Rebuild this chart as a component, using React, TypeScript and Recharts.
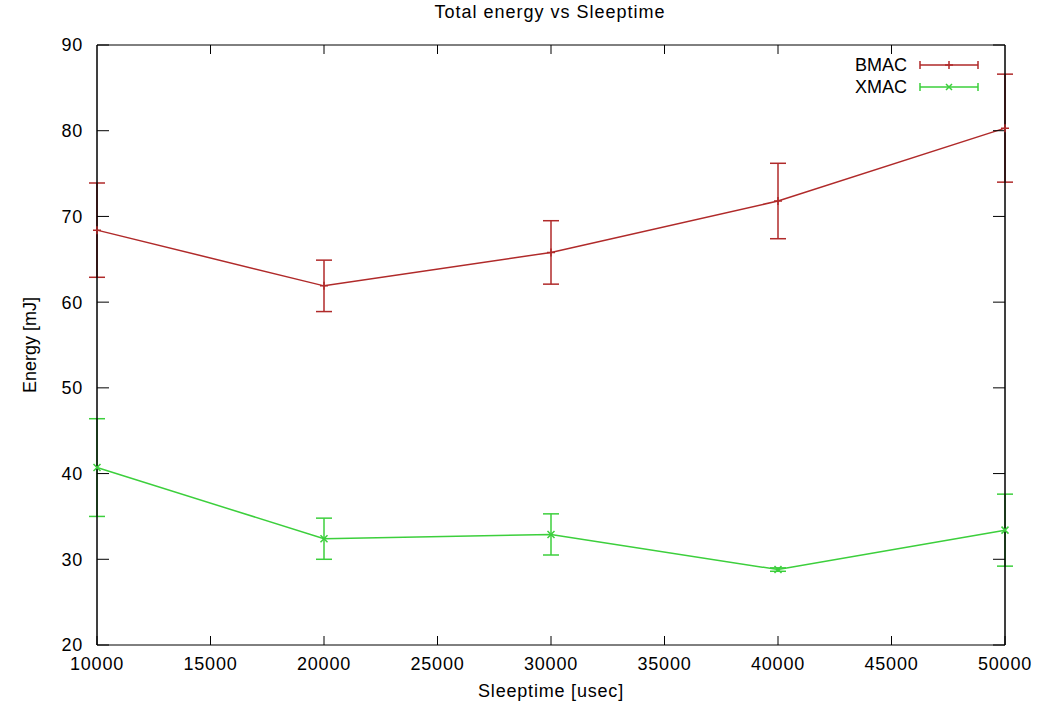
import React from "react";
import { LineChart, Line, XAxis, YAxis, ErrorBar, ReferenceLine } from "recharts";

const sleeptime = [10000, 20000, 30000, 40000, 50000];
const bmacEnergy = [68.4, 61.9, 65.8, 71.8, 80.3];
const bmacError = [5.5, 3.0, 3.7, 4.4, 6.3];
const xmacEnergy = [40.7, 32.4, 32.9, 28.8, 33.4];
const xmacError = [5.7, 2.4, 2.4, 0.2, 4.2];
const xTicks = [10000, 15000, 20000, 25000, 30000, 35000, 40000, 45000, 50000];
const yTicks = [20, 30, 40, 50, 60, 70, 80, 90];

const BMAC_COLOR = "#b02a2a";
const XMAC_COLOR = "#3ccf3c";
const FONT = "'Liberation Sans', Arial, sans-serif";
const FS = 18;

const MARGIN_TOP = 35;
const TOP_AXIS_H = 10;
const PLOT_TOP = MARGIN_TOP + TOP_AXIS_H;

const data = sleeptime.map((t, i) => ({
  t,
  bmac: bmacEnergy[i],
  bmacErr: bmacError[i],
  xmac: xmacEnergy[i],
  xmacErr: xmacError[i],
}));

function PlusDot(props: any) {
  const { cx, cy } = props;
  if (cx == null || cy == null) return null;
  return (
    <path d={`M${cx - 4},${cy}H${cx + 4}M${cx},${cy - 4}V${cy + 4}`} stroke={BMAC_COLOR} strokeWidth={1.5} />
  );
}

function CrossDot(props: any) {
  const { cx, cy } = props;
  if (cx == null || cy == null) return null;
  return (
    <path
      d={`M${cx - 3.5},${cy - 3.5}L${cx + 3.5},${cy + 3.5}M${cx - 3.5},${cy + 3.5}L${cx + 3.5},${cy - 3.5}`}
      stroke={XMAC_COLOR}
      strokeWidth={1.5}
    />
  );
}

// bottom tick label, plus the mirrored inward tick on the top border
function BottomTick(props: any) {
  const { x, y, payload } = props;
  const v = payload.value;
  const isEnd = v === xTicks[0] || v === xTicks[xTicks.length - 1];
  return (
    <g>
      <text
        x={x}
        y={y}
        dy="0.71em"
        textAnchor="middle"
        fill="#000"
        fontSize={FS}
        letterSpacing={0.8}
        fontFamily={FONT}
      >
        {v}
      </text>
      {!isEnd && <line x1={x} x2={x} y1={PLOT_TOP} y2={PLOT_TOP + 9} stroke="#000" strokeWidth={1} />}
    </g>
  );
}

function KeyRow({ label, color, mark }: { label: string; color: string; mark: "plus" | "cross" }) {
  return (
    <div style={{ display: "flex", alignItems: "center", height: 22 }}>
      <span style={{ width: 60, textAlign: "right", fontSize: FS, fontFamily: FONT, color: "#000", lineHeight: "22px" }}>
        {label}
      </span>
      <svg width={66} height={12} style={{ marginLeft: 9 }}>
        <path d="M4,6H62M4,2V10M62,2V10" stroke={color} strokeWidth={1.5} fill="none" />
        {mark === "plus" ? (
          <path d="M33,2V10M29,6H37" stroke={color} strokeWidth={1.5} />
        ) : (
          <path d="M30,3L36,9M30,9L36,3" stroke={color} strokeWidth={1.5} />
        )}
      </svg>
    </div>
  );
}

const tickStyle = { fill: "#000", fontSize: FS, letterSpacing: 0.8 };

export default function App() {
  return (
    <div style={{ position: "absolute", left: 0, top: 0, width: 1040, height: 707, background: "#fff" }}>
      <div
        style={{
          position: "absolute",
          top: 2,
          left: 0,
          width: 1100,
          textAlign: "center",
          fontSize: FS,
          letterSpacing: 1,
          fontFamily: FONT,
        }}
      >
        Total energy vs Sleeptime
      </div>
      <div style={{ position: "absolute", left: 847, top: 54 }}>
        <KeyRow label="BMAC" color={BMAC_COLOR} mark="plus" />
        <KeyRow label="XMAC" color={XMAC_COLOR} mark="cross" />
      </div>
      <LineChart
        width={1040}
        height={707}
        data={data}
        margin={{ top: MARGIN_TOP, right: 34, bottom: 7, left: 37 }}
        style={{ fontFamily: FONT }}
      >
        <XAxis
          dataKey="t"
          type="number"
          domain={[10000, 50000]}
          ticks={xTicks}
          interval={0}
          height={55}
          tickSize={-9}
          tickMargin={21}
          stroke="#000"
          tick={<BottomTick />}
          label={{ value: "Sleeptime [usec]", position: "insideBottom", offset: 3, fill: "#000", fontSize: FS, letterSpacing: 0.8 }}
        />
        <XAxis
          xAxisId="top"
          dataKey="t"
          type="number"
          orientation="top"
          domain={[10000, 50000]}
          allowDataOverflow
          height={TOP_AXIS_H}
          tickLine={false}
          tick={false}
          stroke="#000"
        />
        <YAxis
          type="number"
          domain={[20, 90]}
          ticks={yTicks}
          interval={0}
          width={60}
          tickSize={-12}
          tickMargin={26}
          stroke="#000"
          tick={tickStyle}
          label={{
            value: "Energy [mJ]",
            angle: -90,
            position: "insideLeft",
            offset: -7,
            fill: "#000",
            fontSize: FS,
            style: { textAnchor: "middle" },
          }}
        />
        <YAxis
          yAxisId="right"
          type="number"
          orientation="right"
          domain={[20, 90]}
          allowDataOverflow
          ticks={yTicks}
          interval={0}
          width={1}
          tickSize={-12}
          tick={{ fill: "transparent", fontSize: 1 }}
          stroke="#000"
        />
        <Line
          dataKey="bmac"
          stroke={BMAC_COLOR}
          strokeWidth={1.5}
          dot={<PlusDot />}
          activeDot={false}
          isAnimationActive={false}
        >
          <ErrorBar dataKey="bmacErr" direction="y" width={8} stroke={BMAC_COLOR} strokeWidth={1.5} isAnimationActive={false} />
        </Line>
        <Line
          dataKey="xmac"
          stroke={XMAC_COLOR}
          strokeWidth={1.5}
          dot={<CrossDot />}
          activeDot={false}
          isAnimationActive={false}
        >
          <ErrorBar dataKey="xmacErr" direction="y" width={8} stroke={XMAC_COLOR} strokeWidth={1.5} isAnimationActive={false} />
        </Line>
        <ReferenceLine x={10000} stroke="#000" strokeWidth={1} />
        <ReferenceLine x={50000} stroke="#000" strokeWidth={1} />
      </LineChart>
    </div>
  );
}
